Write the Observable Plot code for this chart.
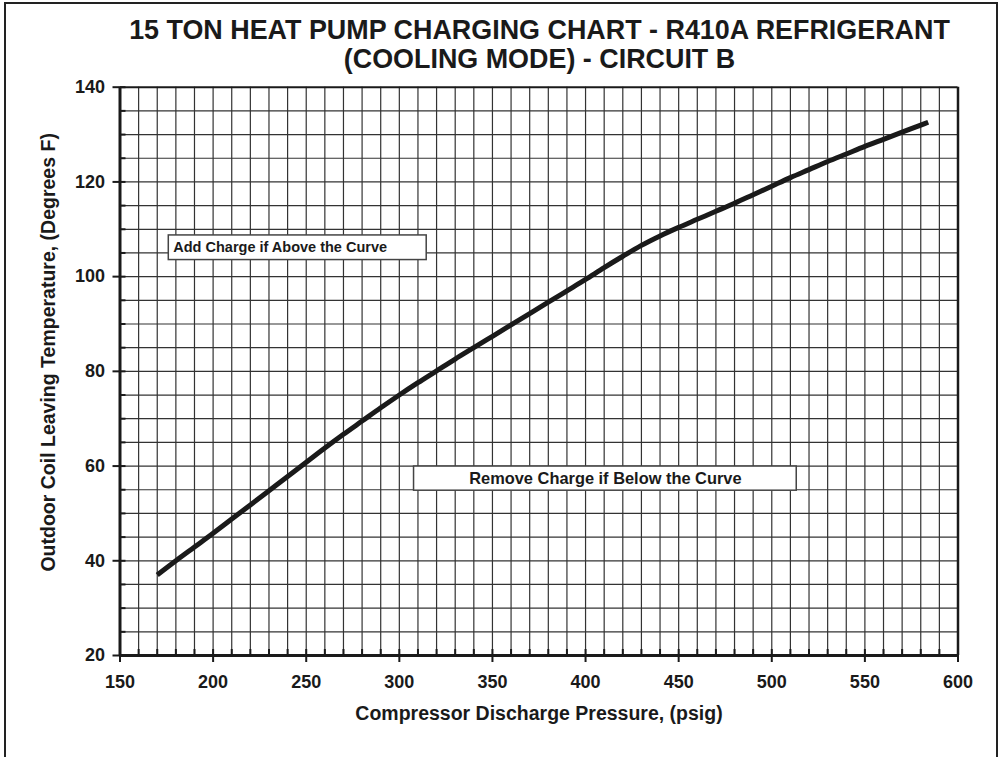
<!DOCTYPE html>
<html>
<head>
<meta charset="utf-8">
<script src="https://cdn.jsdelivr.net/npm/d3@7"></script>
<script src="https://cdn.jsdelivr.net/npm/@observablehq/plot@0.6"></script>
<style>
  html, body { margin: 0; padding: 0; background: #fff; overflow: hidden; }
  body { width: 1000px; height: 757px; position: relative; font-family: "Liberation Sans", Arial, sans-serif; }
  #border { position: absolute; left: 4px; top: 2px; width: 994px; height: 820px; box-sizing: border-box; border: 2.5px solid #222; }
  #title { position: absolute; left: 119.5px; width: 840px; top: 15.6px; text-align: center; font-weight: bold; font-size: 26.9px; line-height: 29px; color: #1a1a1a; white-space: nowrap; }
  #chart { position: absolute; left: 0; top: 70px; }
</style>
</head>
<body>
<div id="border"></div>
<div id="title">15 TON HEAT PUMP CHARGING CHART - R410A REFRIGERANT<br>(COOLING MODE) - CIRCUIT B</div>
<div id="chart"></div>
<script>
// Curve: compressor discharge pressure (psig) vs outdoor coil leaving temperature (°F)
const pressure = [170,180,190,200,210,220,230,240,250,260,270,280,290,300,310,320,330,340,350,360,370,380,390,400,410,420,430,440,450,460,470,480,490,500,510,520,530,540,550,560,570,580,584];
const temperature = [37.0,40.0,42.9,45.8,48.8,51.8,54.8,57.8,60.8,63.8,66.7,69.5,72.3,75.0,77.6,80.1,82.6,85.0,87.4,89.8,92.2,94.6,97.0,99.4,101.9,104.3,106.6,108.6,110.4,112.1,113.8,115.5,117.3,119.1,120.9,122.6,124.3,125.9,127.5,129.0,130.5,132.0,132.6];

const xTicks = [150,200,250,300,350,400,450,500,550,600];
const yTicks = [20,40,60,80,100,120,140];

const xLabel = "Compressor Discharge Pressure, (psig)";
const yLabel = "Outdoor Coil Leaving Temperature, (Degrees F)";

const noteAbove = "Add Charge if Above the Curve";
const noteBelow = "Remove Charge if Below the Curve";
// annotation boxes in data units
const noteAboveBox = {x1: 176.2, x2: 314.7, y1: 103.5, y2: 108.7};
const noteBelowBox = {x1: 307.9, x2: 513.4, y1: 54.8, y2: 59.9};

const curve = pressure.map((p, i) => ({p, t: temperature[i]}));
const xGrid = d3.range(160, 600, 10);
const yGrid = d3.range(25, 140, 5);
const xMinor = d3.range(150, 601, 10);
const yMinor = d3.range(20, 141, 5);

const ink = "#1a1a1a";
const mt = 16.7, mb = 90, ml = 119.5, mr = 42.5, H = 675, W = 1000;
const plotH = H - mt - mb, plotW = W - ml - mr;

const chart = Plot.plot({
  width: W, height: H,
  marginTop: mt, marginBottom: mb, marginLeft: ml, marginRight: mr,
  x: {domain: [150, 600]},
  y: {domain: [20, 140]},
  style: {fontFamily: "'Liberation Sans', Arial, sans-serif", background: "transparent", color: ink, overflow: "visible"},
  marks: [
    Plot.ruleX(xGrid, {stroke: "#333", strokeWidth: 1.2}),
    Plot.ruleY(yGrid, {stroke: "#333", strokeWidth: 1.2}),
    Plot.rect([noteAboveBox, noteBelowBox], {x1: "x1", x2: "x2", y1: "y1", y2: "y2", fill: "white", stroke: "#444", strokeWidth: 1.5}),
    Plot.text([noteAbove], {x: noteAboveBox.x1, y: (noteAboveBox.y1 + noteAboveBox.y2) / 2, dx: 4.5, text: d => d, textAnchor: "start", lineAnchor: "middle", fontSize: 14.5, fontWeight: "bold", fill: ink}),
    Plot.text([noteBelow], {x: (noteBelowBox.x1 + noteBelowBox.x2) / 2, y: (noteBelowBox.y1 + noteBelowBox.y2) / 2, text: d => d, textAnchor: "middle", lineAnchor: "middle", fontSize: 16.4, fontWeight: "bold", fill: ink}),
    Plot.line(curve, {x: "p", y: "t", stroke: ink, strokeWidth: 5, curve: "monotone-x", strokeLinecap: "butt"}),
    Plot.ruleX([150], {stroke: ink, strokeWidth: 3}),
    Plot.ruleX([600], {stroke: ink, strokeWidth: 2.5}),
    Plot.ruleY([140], {stroke: ink, strokeWidth: 2}),
    Plot.ruleY([20], {stroke: ink, strokeWidth: 3}),
    Plot.tickX(xMinor, {x: d => d, insetTop: plotH - 6, stroke: ink, strokeWidth: 2}),
    Plot.tickY(yMinor, {y: d => d, insetRight: plotW - 6, stroke: ink, strokeWidth: 2}),
    Plot.axisX(xTicks, {tickSize: 7, tickPadding: 13, fontSize: 18, fontWeight: "bold", strokeWidth: 2, stroke: ink, fill: ink, label: null}),
    Plot.axisY(yTicks, {tickSize: 7, tickPadding: 8, fontSize: 18, fontWeight: "bold", strokeWidth: 2, stroke: ink, fill: ink, label: null}),
    Plot.text([xLabel], {frameAnchor: "bottom", dy: 58.3, text: d => d, textAnchor: "middle", lineAnchor: "middle", fontSize: 19.5, fontWeight: "bold", fill: ink}),
    Plot.text([yLabel], {frameAnchor: "left", rotate: -90, dx: -71, dy: -19, text: d => d, textAnchor: "middle", lineAnchor: "middle", fontSize: 19.5, fontWeight: "bold", fill: ink})
  ]
});
document.getElementById("chart").append(chart);
</script>
</body>
</html>
